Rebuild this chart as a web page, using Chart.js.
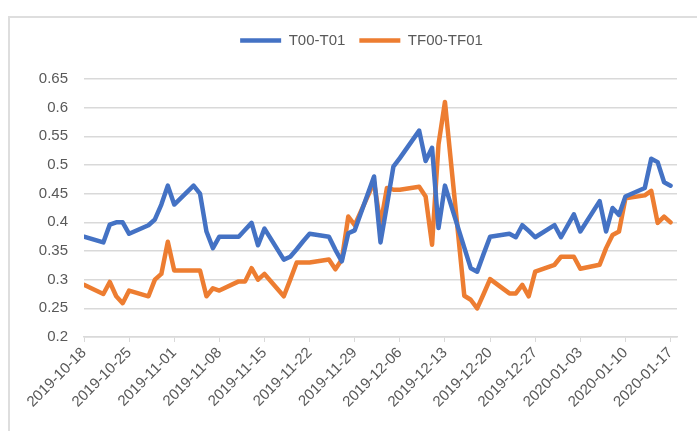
<!DOCTYPE html>
<html>
<head>
<meta charset="utf-8">
<script src="https://cdn.jsdelivr.net/npm/chart.js@4.4.1/dist/chart.umd.min.js"></script>
<style>
  html, body { margin: 0; padding: 0; background: #fff; overflow: hidden; }
  #wrap { position: relative; width: 697px; height: 431px; }
  #frame { position: absolute; left: 8px; top: 16px; width: 800px; height: 500px;
           border-top: 2px solid #dedede; border-left: 2px solid #dedede; }
  canvas { position: absolute; left: 0; top: 0; }
</style>
</head>
<body>
<div id="wrap">
  <div id="frame"></div>
  <canvas id="chart" width="697" height="431"></canvas>
</div>
<script>
// trading days
const dates = [
    '2019-10-18', '2019-10-21', '2019-10-22', '2019-10-23', '2019-10-24', '2019-10-25',
    '2019-10-28', '2019-10-29', '2019-10-30', '2019-10-31', '2019-11-01',
    '2019-11-04', '2019-11-05', '2019-11-06', '2019-11-07', '2019-11-08',
    '2019-11-11', '2019-11-12', '2019-11-13', '2019-11-14', '2019-11-15',
    '2019-11-18', '2019-11-19', '2019-11-20', '2019-11-21', '2019-11-22',
    '2019-11-25', '2019-11-26', '2019-11-27', '2019-11-28', '2019-11-29',
    '2019-12-02', '2019-12-03', '2019-12-04', '2019-12-05', '2019-12-06',
    '2019-12-09', '2019-12-10', '2019-12-11', '2019-12-12', '2019-12-13',
    '2019-12-16', '2019-12-17', '2019-12-18', '2019-12-19', '2019-12-20',
    '2019-12-23', '2019-12-24', '2019-12-25', '2019-12-26', '2019-12-27',
    '2019-12-30', '2019-12-31', '2020-01-02', '2020-01-03',
    '2020-01-06', '2020-01-07', '2020-01-08', '2020-01-09', '2020-01-10',
    '2020-01-13', '2020-01-14', '2020-01-15', '2020-01-16', '2020-01-17'
];

const t00t01 = [
    0.375, 0.365, 0.396, 0.400, 0.400, 0.380,
    0.395, 0.405, 0.431, 0.464, 0.431,
    0.464, 0.450, 0.384, 0.355, 0.375,
    0.375, 0.387, 0.399, 0.360, 0.389,
    0.335, 0.340, 0.353, 0.367, 0.380,
    0.375, 0.352, 0.332, 0.381, 0.386,
    0.480, 0.365, 0.430, 0.497, 0.512,
    0.560, 0.507, 0.530, 0.390, 0.464,
    0.356, 0.320, 0.314, 0.345, 0.375,
    0.380, 0.374, 0.395, 0.385, 0.374,
    0.395, 0.374, 0.414, 0.384,
    0.437, 0.384, 0.425, 0.413, 0.445,
    0.460, 0.511, 0.505, 0.470, 0.464
];

const tf00tf01 = [
    0.291, 0.275, 0.296, 0.271, 0.259, 0.281,
    0.271, 0.300, 0.310, 0.366, 0.316,
    0.316, 0.316, 0.271, 0.285, 0.281,
    0.297, 0.297, 0.320, 0.300, 0.310,
    0.271, 0.300, 0.330, 0.330, 0.330,
    0.335, 0.318, 0.335, 0.410, 0.395,
    0.470, 0.396, 0.460, 0.457, 0.457,
    0.462, 0.445, 0.361, 0.536, 0.610,
    0.272, 0.265, 0.250, 0.275, 0.301,
    0.276, 0.276, 0.291, 0.271, 0.314,
    0.326, 0.340, 0.340, 0.319,
    0.326, 0.355, 0.378, 0.384, 0.442,
    0.447, 0.455, 0.399, 0.410, 0.400
];

const xTickLabels = [
    '2019-10-18', '2019-10-25', '2019-11-01', '2019-11-08', '2019-11-15',
    '2019-11-22', '2019-11-29', '2019-12-06', '2019-12-13', '2019-12-20',
    '2019-12-27', '2020-01-03', '2020-01-10', '2020-01-17'
];

const yTicks = [0.2, 0.25, 0.3, 0.35, 0.4, 0.45, 0.5, 0.55, 0.6, 0.65];

const dayOf = d => (Date.parse(d) - Date.parse(dates[0])) / 864e5;
const toPoints = vals => dates.map((d, i) => ({ x: dayOf(d), y: vals[i] }));

Chart.defaults.font.family = "'Liberation Sans', Arial, sans-serif";
Chart.defaults.color = '#595959';

// legend height fixed + nudge to the right like the reference
const legendSpace = {
    id: 'legendSpace',
    beforeInit(chart) {
        const fit = chart.legend.fit;
        chart.legend.fit = function () {
            fit.call(this);
            this.height = 60;
        };
    },
    afterLayout(chart) {
        chart.legend.left += 13;
        chart.legend.right += 13;
    }
};

const lineStyle = {
    borderWidth: 4.5,
    tension: 0,
    borderJoinStyle: 'round',
    borderCapStyle: 'round',
    pointRadius: 0,
    pointHoverRadius: 0
};

new Chart(document.getElementById('chart'), {
    type: 'line',
    data: {
        datasets: [
            {
                label: 'T00-T01',
                data: toPoints(t00t01),
                borderColor: '#4472C4',
                backgroundColor: '#4472C4',
                ...lineStyle
            },
            {
                label: 'TF00-TF01',
                data: toPoints(tf00tf01),
                borderColor: '#ED7D31',
                backgroundColor: '#ED7D31',
                ...lineStyle
            }
        ]
    },
    options: {
        responsive: false,
        animation: false,
        layout: { padding: { left: 20, right: 20, top: 19, bottom: 0 } },
        plugins: {
            legend: {
                position: 'top',
                labels: {
                    usePointStyle: true,
                    pointStyle: 'line',
                    pointStyleWidth: 41,
                    padding: 14,
                    font: { size: 15 },
                    color: '#595959'
                }
            },
            tooltip: { enabled: false }
        },
        scales: {
            x: {
                type: 'linear',
                min: 0,
                max: dayOf(xTickLabels[xTickLabels.length - 1]) + 1,
                afterBuildTicks: scale => {
                    scale.ticks = xTickLabels.map(d => ({ value: dayOf(d) }));
                },
                afterFit: scale => {
                    scale.height = 94;
                    scale.paddingLeft = 0;
                    scale.paddingRight = 0;
                },
                ticks: {
                    autoSkip: false,
                    minRotation: 45,
                    maxRotation: 45,
                    padding: 2,
                    font: { size: 15 },
                    callback: (v, i) => xTickLabels[i]
                },
                grid: { drawOnChartArea: false, drawTicks: true, tickLength: 5, color: '#d9d9d9' },
                border: { display: true, color: '#d9d9d9', width: 1.5 }
            },
            y: {
                min: 0.2,
                max: 0.65,
                afterBuildTicks: scale => {
                    scale.ticks = yTicks.map(v => ({ value: v }));
                },
                afterFit: scale => {
                    scale.width = 64;
                    scale.paddingTop = 0;
                    scale.paddingBottom = 0;
                },
                ticks: {
                    padding: 16,
                    font: { size: 15 },
                    callback: v => String(v)
                },
                grid: { drawTicks: false, color: '#d9d9d9', lineWidth: 1.5 },
                border: { display: false }
            }
        }
    },
    plugins: [legendSpace]
});
</script>
</body>
</html>
